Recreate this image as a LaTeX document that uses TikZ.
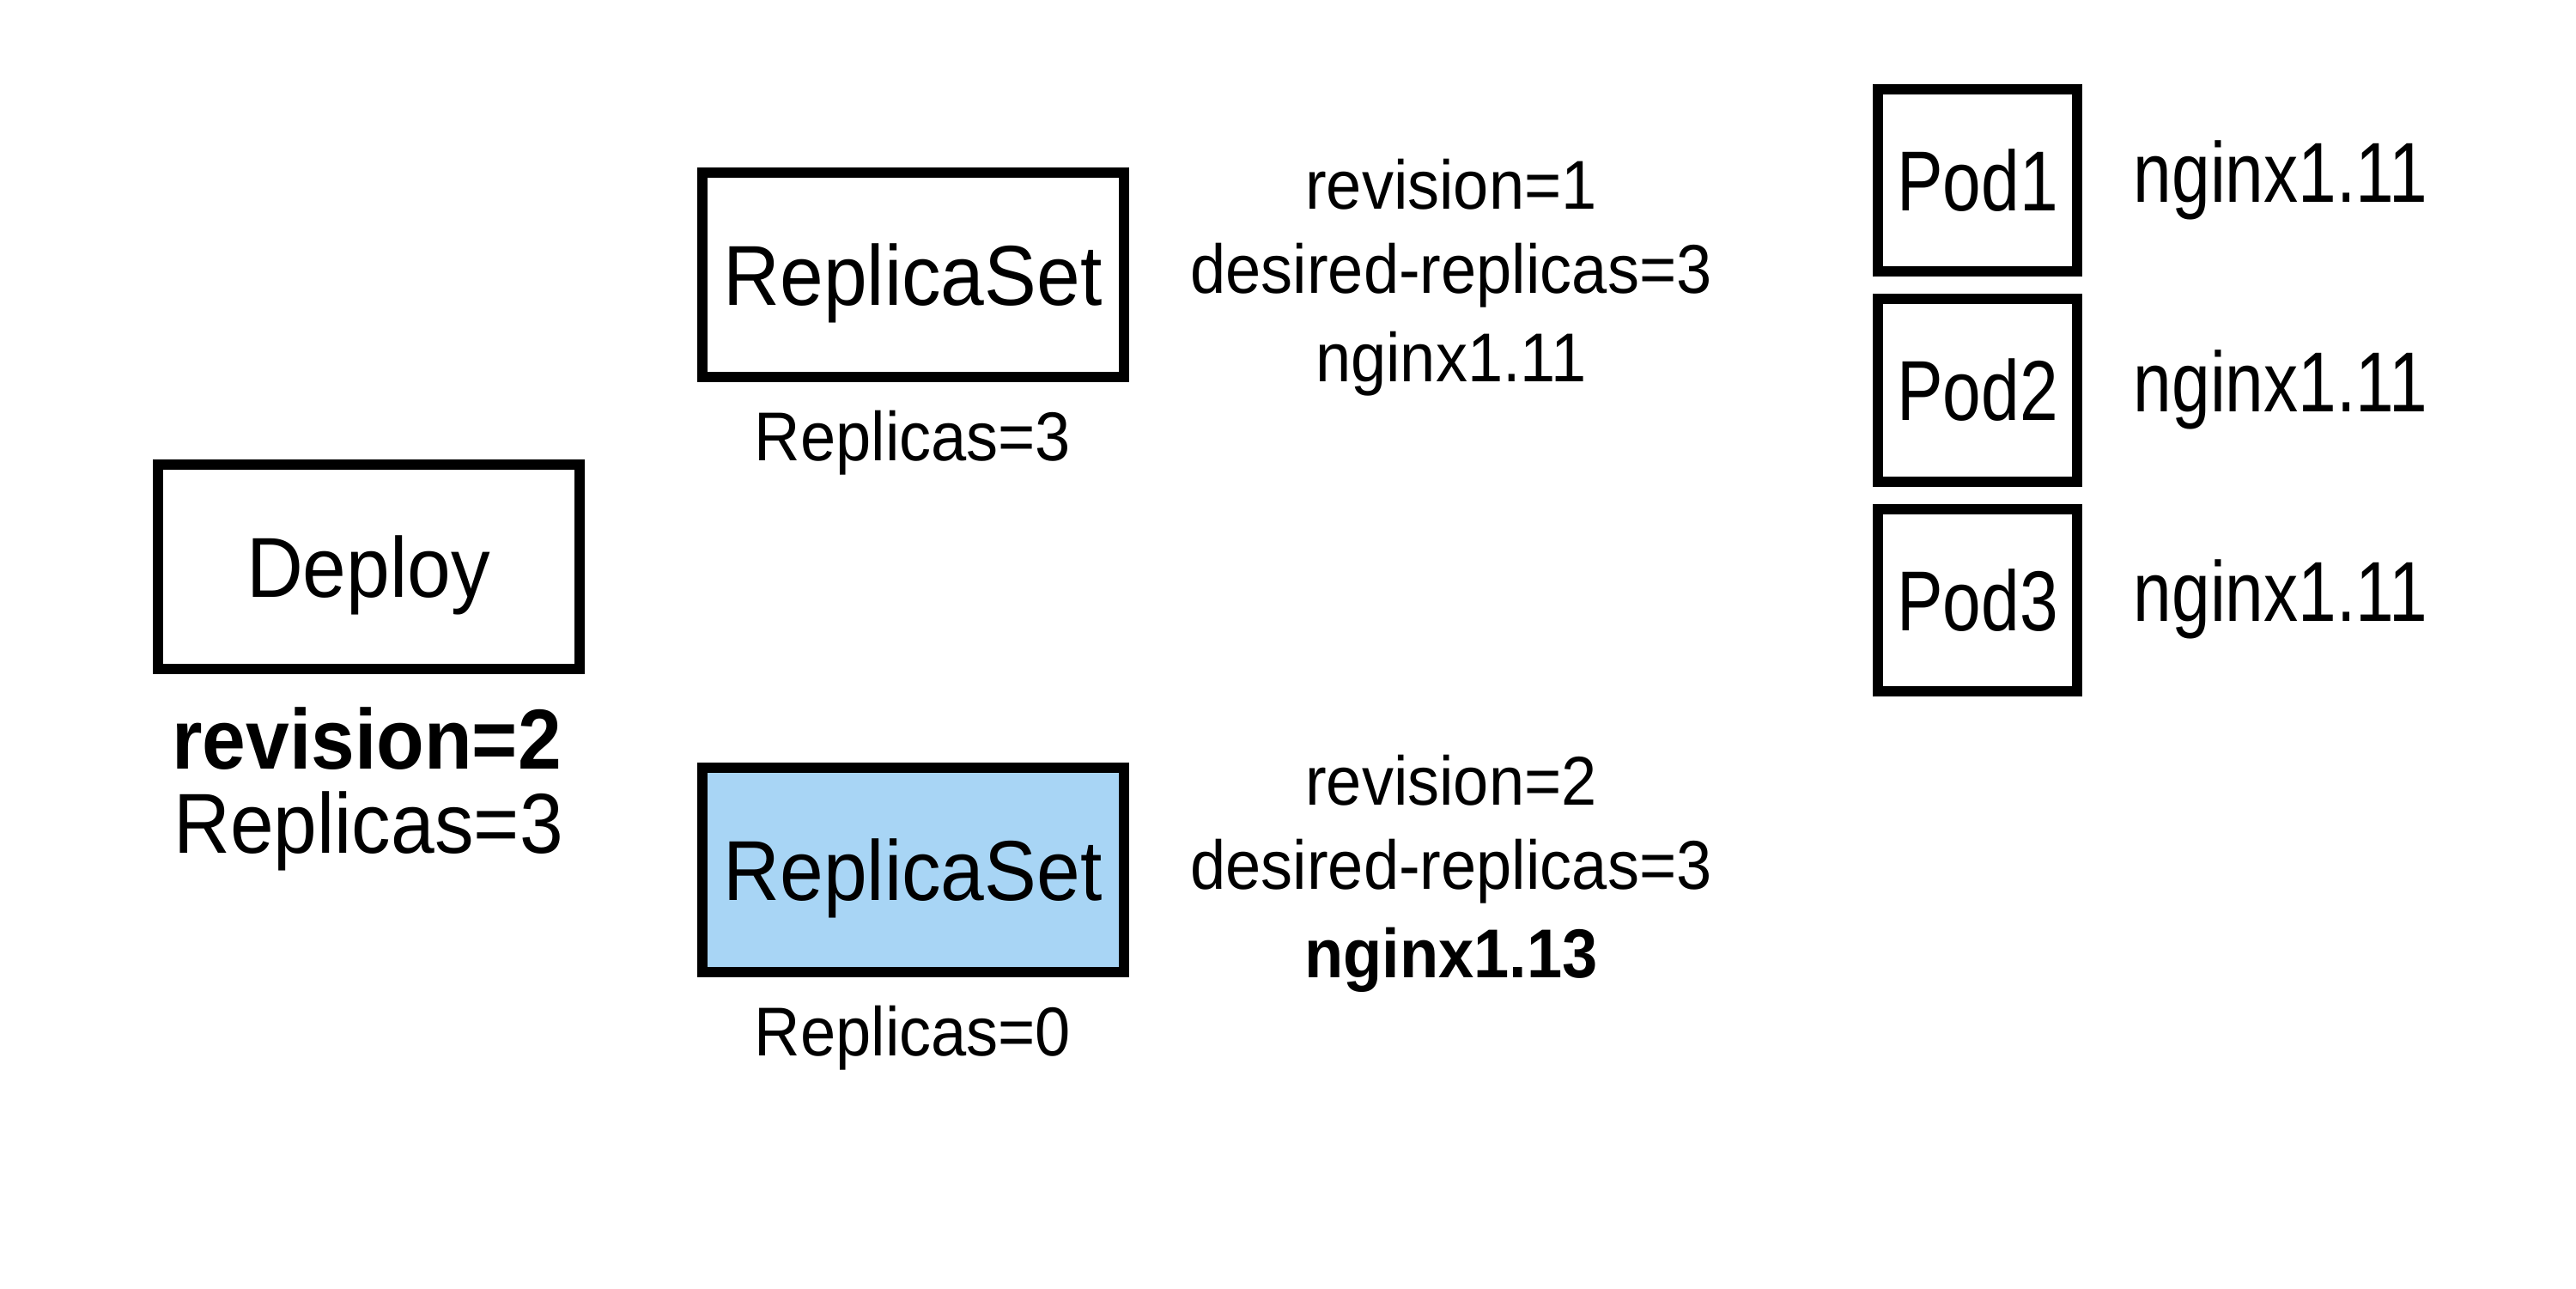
\documentclass[tikz,border=0pt]{standalone}
\usepackage{fontspec}
\setmainfont{Liberation Sans}[FakeStretch=0.92]
\newfontfamily\narrowfam{Liberation Sans}[FakeStretch=0.81]
\usepackage{tikz}
\usetikzlibrary{positioning}

\definecolor{rsblue}{RGB}{168,213,245}
\newcommand{\bigtxt}{\fontsize{28.2}{34}\selectfont}
\newcommand{\smalltxt}{\fontsize{22.9}{28}\selectfont}

\tikzset{
  objbox/.style={draw=black, line width=1.2mm, rectangle, inner sep=0pt,
    minimum width=4.91cm, minimum height=2.38cm,
    font=\bigtxt, text height=7.1mm, text depth=0pt},
  podbox/.style={objbox, minimum width=2.32cm, minimum height=2.12cm,
    font=\bigtxt\narrowfam},
  biglbl/.style={inner sep=0pt, anchor=base, font=\bigtxt},
  smalllbl/.style={inner sep=0pt, anchor=base, font=\smalltxt},
}

\begin{document}
\begin{tikzpicture}
        \useasboundingbox (0,0) rectangle (30,15);

        % deployment
        \node[objbox] (deploy) at (4.29,8.40) {Deploy};
        \node[biglbl, font=\bigtxt\bfseries] (deployrev) at (4.27,6.05) {revision=2};
        \node[biglbl] (deployrep) at (4.29,5.07) {Replicas=3};

        % replica sets
        \node[objbox] (rsold) at (10.63,11.80) {ReplicaSet};
        \node[smalllbl] (rsoldrep) at (10.63,9.64) {Replicas=3};
        \node[objbox, fill=rsblue] (rsnew) at (10.63,4.87) {ReplicaSet};
        \node[smalllbl] (rsnewrep) at (10.63,2.71) {Replicas=0};

        % replica set details
        \node[smalllbl] (oldrev) at (16.90,12.56) {revision=1};
        \node[smalllbl] (olddes) at (16.90,11.58) {desired-replicas=3};
        \node[smalllbl] (oldimg) at (16.90,10.56) {nginx1.11};
        \node[smalllbl] (newrev) at (16.90,5.63) {revision=2};
        \node[smalllbl] (newdes) at (16.90,4.65) {desired-replicas=3};
        \node[smalllbl, font=\smalltxt\bfseries] (newimg) at (16.90,3.62) {nginx1.13};

        % pods
        \foreach \i/\y in {1/12.895, 2/10.455, 3/8.015} {
          \node[podbox] (pod\i) at (23.03,\y) {Pod\i};
          \node[biglbl, font=\bigtxt\narrowfam, right=5.9mm of pod\i.east,
            anchor=base west, yshift=-2.5mm] (podimg\i) {nginx1.11};
        }
      \end{tikzpicture}
\end{document}
